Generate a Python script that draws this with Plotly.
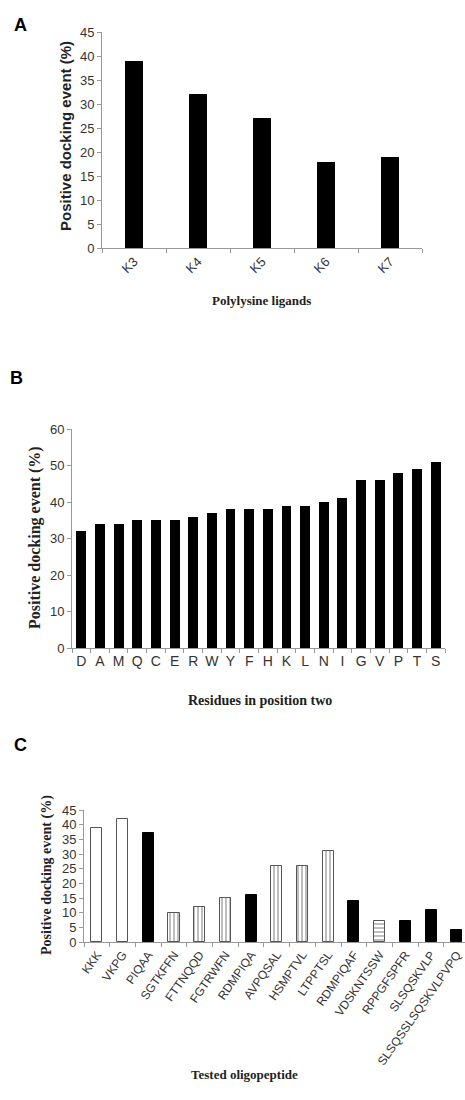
import plotly.graph_objects as go

# Panel A data
ligands = ["K3", "K4", "K5", "K6", "K7"]
ligand_values = [39, 32, 27, 18, 19]

# Panel B data
residues = ["D", "A", "M", "Q", "C", "E", "R", "W", "Y", "F", "H", "K", "L", "N", "I", "G", "V", "P", "T", "S"]
residue_values = [32, 34, 34, 35, 35, 35, 36, 37, 38, 38, 38, 39, 39, 40, 41, 46, 46, 48, 49, 51]

# Panel C data
peptides = ["KKK", "VKPG", "PIQAA", "SGTKFFN", "FTTNQQD", "FGTRWFN", "RDMPIQA", "AVPQSAL",
            "HSMPTVL", "LTPPTSL", "RDMPIQAF", "VDSKNTSSW", "RPPGFSPFR", "SLSQSKVLP",
            "SLSQSSLSQSKVLPVPQ"]
peptide_values = [39, 42, 37, 10, 12, 15, 16, 26, 26, 31, 14, 7, 7, 11, 4]
peptide_groups = ["open", "open", "solid", "vstripe", "vstripe", "vstripe", "solid", "vstripe",
                  "vstripe", "vstripe", "solid", "hstripe", "solid", "solid", "solid"]

W, H = 465, 1100
def py(p):
    return 1 - p / H
def px(p):
    return p / W

fill_map = {"open": "white", "solid": "black", "vstripe": "white", "hstripe": "white"}
shape_map = {"open": "", "solid": "", "vstripe": "|", "hstripe": "-"}
line_map = {"open": "#555555", "solid": "black", "vstripe": "#555555", "hstripe": "#555555"}

fig = go.Figure()
fig.add_trace(go.Bar(x=ligands, y=ligand_values, xaxis="x", yaxis="y",
                     marker=dict(color="black", line=dict(width=0)), width=0.28))
fig.add_trace(go.Bar(x=residues, y=residue_values, xaxis="x2", yaxis="y2",
                     marker=dict(color="black", line=dict(width=0)), width=0.53))
fig.add_trace(go.Bar(x=peptides, y=peptide_values, xaxis="x3", yaxis="y3", width=0.43,
                     marker=dict(color=[fill_map[g] for g in peptide_groups],
                                 line=dict(color=[line_map[g] for g in peptide_groups], width=1),
                                 pattern=dict(shape=[shape_map[g] for g in peptide_groups],
                                              fgcolor="#555555", bgcolor="white",
                                              size=4, solidity=0.35))))

axis_line = dict(showline=True, linecolor="#999999", linewidth=1, showgrid=False, zeroline=False,
                 ticks="outside", tickcolor="#999999", ticklen=4, automargin=False)
sans = "Arial, Liberation Sans, sans-serif"
serif = "Liberation Serif, Times New Roman, serif"

fig.update_layout(
    width=W, height=H, margin=dict(l=0, r=0, t=0, b=0), autosize=False,
    plot_bgcolor="white", paper_bgcolor="white", showlegend=False, bargap=0,
    xaxis=dict(domain=[px(102), px(422)], anchor="y", tickangle=-45, tickson="boundaries",
               tickfont=dict(family=sans, size=13, color="#333333"), **axis_line),
    yaxis=dict(domain=[py(248), py(32)], anchor="x", range=[0, 45], dtick=5,
               tickfont=dict(family=sans, size=13, color="#333333"), **axis_line),
    xaxis2=dict(domain=[px(72), px(445)], anchor="y2", tickangle=0, tickson="boundaries",
                tickfont=dict(family=sans, size=14, color="#333333"), **axis_line),
    yaxis2=dict(domain=[py(648), py(429)], anchor="x2", range=[0, 60], dtick=10,
                tickfont=dict(family=sans, size=13, color="#333333"), **axis_line),
    xaxis3=dict(domain=[px(84), 1.0], anchor="y3", tickangle=-55, tickson="boundaries",
                range=[-0.5, 14.32],
                tickfont=dict(family=sans, size=12, color="#333333"), **axis_line),
    yaxis3=dict(domain=[py(942), py(810)], anchor="x3", range=[0, 45], dtick=5,
                tickfont=dict(family=sans, size=13, color="#333333"), **axis_line),
)

ann = []
# Panel letters
for letter, x, y in [("A", 20, 25), ("B", 16, 378), ("C", 20, 745)]:
    ann.append(dict(text="<b>" + letter + "</b>", x=px(x), y=py(y), xref="paper", yref="paper",
                    xanchor="center", yanchor="middle",
                    showarrow=False, font=dict(family=sans, size=18, color="black")))
# Axis titles
titles = [
    ("Positive docking event (%)", 65, 136, -90, sans, 15),
    ("Polylysine ligands", 261, 300, 0, serif, 13),
    ("Positive docking event (%)", 35, 538, -90, serif, 16),
    ("Residues in position two", 260, 700, 0, serif, 14),
    ("Positive docking event (%)", 47, 875, -90, serif, 14),
    ("Tested oligopeptide", 244, 1074, 0, serif, 13),
]
for text, x, y, ang, fam, size in titles:
    ann.append(dict(text="<b>" + text + "</b>", x=px(x), y=py(y), xref="paper", yref="paper",
                    xanchor="center", yanchor="middle", textangle=ang, showarrow=False,
                    font=dict(family=fam, size=size, color="#222222")))
fig.update_layout(annotations=ann)

fig.write_html("out.html", config={"displayModeBar": False},
               post_script="document.body.style.margin='0';document.body.style.overflow='hidden';")
